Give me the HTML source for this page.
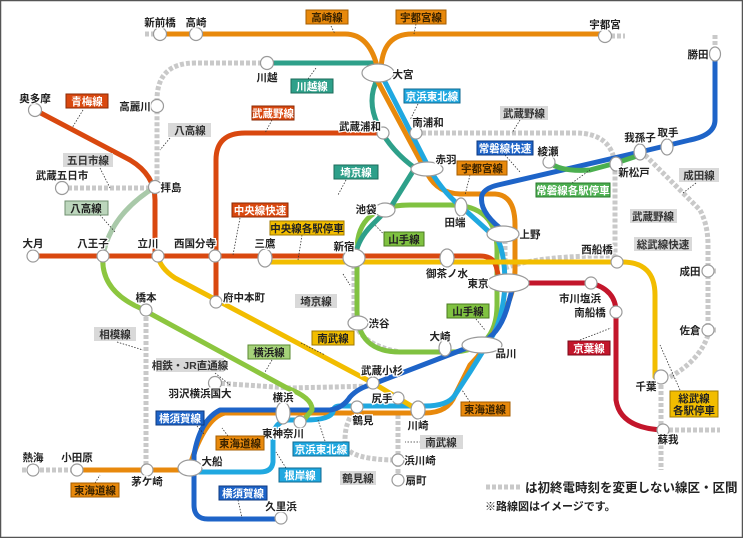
<!DOCTYPE html>
<html><head><meta charset="utf-8"><style>
html,body{margin:0;padding:0;background:#fff}
svg{display:block}
text{font-family:"Liberation Sans","Noto Sans CJK JP",sans-serif;font-weight:bold}
.s{font-size:10.5px;fill:#222;paint-order:stroke;stroke:#fff;stroke-width:2.5px}
.b{font-size:10.5px}
.st{fill:#fff;stroke:#9a9a9a;stroke-width:1.2}
.ln{fill:none;stroke-width:5;stroke-linecap:round;stroke-linejoin:round}
.dt{fill:none;stroke:#c9c9c9;stroke-width:5;stroke-dasharray:4 2}
.ld{stroke:#333;stroke-width:.8;stroke-dasharray:1.5 1.5;fill:none}
</style></head><body>
<svg width="743" height="538" viewBox="0 0 743 538" xmlns="http://www.w3.org/2000/svg">
<rect x="0.5" y="0.5" width="742" height="537" fill="#fff" stroke="#555" stroke-width="1.5"/>
<path class="dt" d="M262,63 H195 Q157,63 157,100 V187"/>
<path class="dt" d="M62,188 H155"/>
<path class="dt" d="M146,311 V470"/>
<path class="dt" d="M22,470 H77"/>
<path class="dt" d="M145,34 H160"/>
<path class="dt" d="M605,36 H625"/>
<path class="dt" d="M715,35 V54"/>
<path class="dt" d="M416,133 H575 Q612,133 615,165 V262"/>
<path class="dt" d="M645,155 L700,210 Q708,225 708,245 V335 Q700,360 670,377"/>
<path class="dt" d="M708,271 H716 M708,330 H716"/>
<path class="dt" d="M505,268 Q540,255 617,256"/>
<path class="dt" d="M661,385 V470 M663,430 H720"/>
<path class="dt" d="M354,265 V320 Q360,345 400,352 H440"/>
<path class="dt" d="M215,383 L290,388 L375,386"/>
<path class="dt" d="M357,408 Q345,420 345,440 V445 Q350,460 398,460"/>
<path class="dt" d="M398,415 V480"/>
<path class="dt" d="M505,240 V262"/>
<path class="ln" stroke="#80c241" d="M357,250 Q357,205 410,205 H450 Q497,205 497,250 V305 Q497,352 450,352 H400 Q357,352 357,310 Z"/>
<path class="ln" stroke="#2ea08a" d="M267,63 H372"/>
<path class="ln" stroke="#2ea08a" d="M378,78 Q366,100 378,125 Q390,150 415,168 L392,205 L372,225 Q357,240 355,258"/>
<path class="ln" stroke="#e8890c" d="M160,34 H345 Q370,34 378,70"/>
<path class="ln" stroke="#e8890c" d="M381,70 Q382,34 412,34 H604"/>
<path class="ln" stroke="#e8890c" d="M377,80 L428,175 Q438,193 460,194 H495 Q515,195 515,225 V270 Q515,290 505,310 L495,330 Q485,350 470,365 L455,395 Q448,413 425,413 H225 Q205,418 190,465"/>
<path class="ln" stroke="#e8890c" d="M77,470 H187"/>
<path class="ln" stroke="#20a8e0" d="M384,80 L430,170 Q445,195 465,210 L498,240 Q505,255 505,285 Q503,320 490,340 L470,372 L455,395 Q448,406 425,406 H340 Q333,406 333,412 Q330,420 305,420 H288 Q275,422 273,435 V462 Q272,472 260,472 H195"/>
<path class="ln" stroke="#1e64c8" d="M281,519 H208 Q194,519 194,505 V455 Q200,420 220,410 H330 Q343,408 350,397 Q358,388 373,384 L480,343 Q500,335 508,305 L512,290"/>
<path class="ln" stroke="#1e64c8" d="M505,232 Q478,212 482,195 Q485,188 498,185 L640,152 L690,140 Q715,135 715,120 V55"/>
<path class="ln" stroke="#4caf50" d="M549,162 Q560,172 590,170 L616,163 L640,155"/>
<path class="ln" stroke="#d9480f" d="M33,256 H480 Q495,256 497,270 L500,283"/>
<path class="ln" stroke="#d9480f" d="M35,110 L130,160 Q155,175 155,200 V256"/>
<path class="ln" stroke="#d9480f" d="M216,302 V160 Q216,133 245,133 H383"/>
<path class="ln" stroke="#f2bd00" d="M265,262 H622 Q655,262 655,295 V377"/>
<path class="ln" stroke="#f2bd00" d="M158,256 Q160,268 175,278 L373,383 L418,410"/>
<path class="ln" stroke="#a9c9a9" d="M155,187 Q110,215 103,256"/>
<path class="ln" stroke="#8cc63f" d="M103,256 Q100,290 140,308 L287,388 Q313,398 312,410 L302,422"/>
<path class="ln" stroke="#c3162b" d="M505,283 H591 Q616,290 616,312 V400 Q620,428 663,430"/>
<path class="ld" d="M331,26 L335,34 M416,24 L414,34 M308,79 L316,68 M83,110 L72,128 M272,120 L265,133 M418,104 L410,120 M520,120 L512,133 M505,155 L520,172 M346,180 L338,195 M470,175 L465,195 M572,183 L590,170 M696,183 L683,193 M170,138 L160,150 M100,168 L110,188 M100,215 L115,232 M240,218 L233,255 M302,235 L298,260 M395,246 L375,225 M476,319 L485,330 M117,342 L143,350 M301,343 L325,355 M272,360 L265,372 M580,340 L611,328 M215,373 L230,385 M470,402 L462,390 M680,390 L660,345 M197,426 L204,434 M228,436 L222,428 M325,441 L318,420 M286,468 L276,452 M95,483 L100,475 M238,500 L242,518 M427,442 L405,442 M343,274 L350,285"/>
<g class="st">
<circle cx="160" cy="34" r="6.5"/><circle cx="196" cy="34" r="6.5"/><circle cx="605" cy="36" r="6.5"/>
<ellipse cx="715" cy="54" rx="5.5" ry="7"/>
<ellipse cx="378" cy="73" rx="16" ry="9"/>
<circle cx="267" cy="63" r="6.5"/><circle cx="157" cy="106" r="6.5"/><circle cx="35" cy="110" r="6.5"/>
<circle cx="383" cy="133" r="6"/><circle cx="416" cy="133" r="6"/>
<ellipse cx="427" cy="169" rx="16" ry="7"/>
<circle cx="549" cy="162" r="6"/><ellipse cx="640" cy="152" rx="6" ry="8"/><ellipse cx="667" cy="147" rx="6" ry="8"/>
<ellipse cx="616" cy="164" rx="6" ry="7"/>
<circle cx="62" cy="188" r="6.5"/><circle cx="155" cy="187" r="6.5"/>
<ellipse cx="385" cy="210" rx="10" ry="7"/><ellipse cx="461" cy="207" rx="6" ry="9"/>
<ellipse cx="503" cy="234" rx="16" ry="8"/>
<circle cx="33" cy="256" r="6"/><circle cx="103" cy="256" r="6"/><circle cx="158" cy="256" r="6"/><circle cx="215" cy="256" r="6"/>
<ellipse cx="265" cy="258" rx="7" ry="9"/><ellipse cx="354" cy="258" rx="11" ry="9"/>
<ellipse cx="447" cy="258" rx="7" ry="9"/><ellipse cx="508" cy="283" rx="21" ry="9"/>
<circle cx="617" cy="262" r="6"/><circle cx="708" cy="271" r="6"/><circle cx="591" cy="283" r="6"/><circle cx="616" cy="312" r="6"/>
<circle cx="216" cy="302" r="6"/><circle cx="146" cy="310" r="6"/>
<ellipse cx="358" cy="323" rx="10" ry="7"/><circle cx="708" cy="330" r="6"/>
<ellipse cx="445" cy="348" rx="6" ry="8"/><ellipse cx="482" cy="345" rx="20" ry="8"/>
<circle cx="661" cy="377" r="7"/><circle cx="373" cy="383" r="6"/><circle cx="215" cy="383" r="6.5"/>
<circle cx="398" cy="398" r="6"/><ellipse cx="283" cy="413" rx="7" ry="11"/><ellipse cx="418" cy="410" rx="7" ry="9"/>
<circle cx="357" cy="407" r="6"/><circle cx="300" cy="422" r="6"/><circle cx="663" cy="430" r="6"/>
<ellipse cx="190" cy="468" rx="12" ry="8"/><circle cx="33" cy="470" r="6"/><circle cx="77" cy="470" r="6"/><circle cx="147" cy="470" r="6"/>
<circle cx="398" cy="460" r="6"/><circle cx="398" cy="480" r="6"/><circle cx="281" cy="518" r="6"/>
</g>
<g class="s" text-anchor="middle">
<text x="160" y="26">新前橋</text><text x="196" y="26">高崎</text><text x="605" y="28">宇都宮</text>
<text x="698" y="58">勝田</text><text x="403" y="78">大宮</text><text x="267" y="81">川越</text>
<text x="135" y="110">高麗川</text><text x="35" y="102">奥多摩</text><text x="360" y="130">武蔵浦和</text>
<text x="428" y="126">南浦和</text><text x="446" y="163">赤羽</text><text x="548" y="155">綾瀬</text>
<text x="640" y="141">我孫子</text><text x="668" y="136">取手</text><text x="634" y="176">新松戸</text>
<text x="62" y="179">武蔵五日市</text><text x="171" y="191">拝島</text><text x="366" y="213">池袋</text>
<text x="455" y="226">田端</text><text x="530" y="238">上野</text><text x="33" y="247">大月</text>
<text x="93" y="247">八王子</text><text x="148" y="247">立川</text><text x="195" y="247">西国分寺</text>
<text x="265" y="247">三鷹</text><text x="344" y="250">新宿</text><text x="447" y="277">御茶ノ水</text>
<text x="478" y="287">東京</text><text x="597" y="253">西船橋</text><text x="690" y="275">成田</text>
<text x="580" y="302">市川塩浜</text><text x="590" y="316">南船橋</text><text x="244" y="301">府中本町</text>
<text x="146" y="301">橋本</text><text x="379" y="327">渋谷</text><text x="690" y="334">佐倉</text>
<text x="440" y="340">大崎</text><text x="506" y="357">品川</text><text x="646" y="390">千葉</text>
<text x="382" y="374">武蔵小杉</text><text x="200" y="397">羽沢横浜国大</text><text x="382" y="402">尻手</text>
<text x="283" y="401">横浜</text><text x="418" y="429">川崎</text><text x="363" y="424">鶴見</text>
<text x="283" y="437">東神奈川</text><text x="668" y="443">蘇我</text><text x="212" y="465">大船</text>
<text x="33" y="461">熱海</text><text x="77" y="461">小田原</text><text x="147" y="485">茅ケ崎</text>
<text x="420" y="464">浜川崎</text><text x="416" y="484">扇町</text><text x="281" y="510">久里浜</text>
</g>
<g class="b" text-anchor="middle">
<g><rect x="306" y="10" width="42" height="14" fill="#e8890c" stroke="#a55d00"/><text x="327" y="21" fill="#3a2300">高崎線</text></g>
<g><rect x="396" y="10" width="50" height="14" fill="#e8890c" stroke="#a55d00"/><text x="421" y="21" fill="#3a2300">宇都宮線</text></g>
<g><rect x="291" y="79" width="42" height="14" fill="#2ea08a" stroke="#1c6b5a"/><text x="312" y="90" fill="#fff">川越線</text></g>
<g><rect x="66" y="94" width="42" height="14" fill="#d9480f" stroke="#8a2a05"/><text x="87" y="105" fill="#fff">青梅線</text></g>
<g><rect x="252" y="106" width="42" height="14" fill="#d9480f" stroke="#8a2a05"/><text x="273" y="117" fill="#fff">武蔵野線</text></g>
<g><rect x="404" y="89" width="56" height="14" fill="#20a8e0" stroke="#106a90"/><text x="432" y="100" fill="#fff">京浜東北線</text></g>
<g><rect x="500" y="106" width="48" height="14" fill="#d9d9d9"/><text x="524" y="117" fill="#333">武蔵野線</text></g>
<g><rect x="168" y="123" width="43" height="14" fill="#d9d9d9"/><text x="190" y="134" fill="#333">八高線</text></g>
<g><rect x="63" y="153" width="50" height="14" fill="#d9d9d9"/><text x="88" y="164" fill="#333">五日市線</text></g>
<g><rect x="477" y="141" width="56" height="14" fill="#1e64c8" stroke="#0e3a80"/><text x="505" y="152" fill="#fff">常磐線快速</text></g>
<g><rect x="334" y="165" width="44" height="14" fill="#2ea08a" stroke="#1c6b5a"/><text x="356" y="176" fill="#fff">埼京線</text></g>
<g><rect x="457" y="161" width="50" height="14" fill="#e8890c" stroke="#a55d00"/><text x="482" y="172" fill="#3a2300">宇都宮線</text></g>
<g><rect x="536" y="183" width="74" height="14" fill="#4caf50" stroke="#2a7a2e"/><text x="573" y="194" fill="#fff">常磐線各駅停車</text></g>
<g><rect x="679" y="168" width="40" height="14" fill="#d9d9d9"/><text x="699" y="179" fill="#333">成田線</text></g>
<g><rect x="65" y="201" width="43" height="14" fill="#bcd6bc" stroke="#6f8f6f"/><text x="86" y="212" fill="#222">八高線</text></g>
<g><rect x="232" y="203" width="56" height="14" fill="#d9480f" stroke="#8a2a05"/><text x="260" y="214" fill="#fff">中央線快速</text></g>
<g><rect x="270" y="221" width="74" height="14" fill="#f2bd00" stroke="#a07a00"/><text x="307" y="232" fill="#222">中央線各駅停車</text></g>
<g><rect x="384" y="232" width="40" height="14" fill="#80c241" stroke="#4a7a20"/><text x="404" y="243" fill="#222">山手線</text></g>
<g><rect x="630" y="209" width="47" height="14" fill="#d9d9d9"/><text x="653" y="220" fill="#333">武蔵野線</text></g>
<g><rect x="634" y="237" width="58" height="14" fill="#d9d9d9"/><text x="663" y="248" fill="#333">総武線快速</text></g>
<g><rect x="295" y="294" width="42" height="14" fill="#d9d9d9"/><text x="316" y="305" fill="#333">埼京線</text></g>
<g><rect x="447" y="304" width="42" height="14" fill="#80c241" stroke="#4a7a20"/><text x="468" y="315" fill="#222">山手線</text></g>
<g><rect x="94" y="327" width="42" height="14" fill="#d9d9d9"/><text x="115" y="338" fill="#333">相模線</text></g>
<g><rect x="312" y="331" width="42" height="14" fill="#f2bd00" stroke="#a07a00"/><text x="333" y="342" fill="#222">南武線</text></g>
<g><rect x="248" y="345" width="42" height="14" fill="#a6d27a" stroke="#5a8a30"/><text x="269" y="356" fill="#222">横浜線</text></g>
<g><rect x="568" y="341" width="42" height="14" fill="#c3162b" stroke="#7a0a18"/><text x="589" y="352" fill="#fff">京葉線</text></g>
<g><rect x="156" y="358" width="68" height="14" fill="#d9d9d9"/><text x="190" y="369" fill="#333">相鉄・JR直通線</text></g>
<g><rect x="461" y="402" width="49" height="14" fill="#e8890c" stroke="#a55d00"/><text x="485" y="413" fill="#3a2300">東海道線</text></g>
<g><rect x="670" y="391" width="48" height="26" fill="#f2bd00" stroke="#a07a00"/><text x="694" y="402" fill="#222">総武線</text><text x="694" y="414" fill="#222">各駅停車</text></g>
<g><rect x="156" y="411" width="48" height="14" fill="#1e64c8" stroke="#0e3a80"/><text x="180" y="422" fill="#fff">横須賀線</text></g>
<g><rect x="216" y="436" width="48" height="14" fill="#e8890c" stroke="#a55d00"/><text x="240" y="447" fill="#3a2300">東海道線</text></g>
<g><rect x="293" y="442" width="56" height="14" fill="#20a8e0" stroke="#106a90"/><text x="321" y="453" fill="#fff">京浜東北線</text></g>
<g><rect x="420" y="435" width="43" height="14" fill="#d9d9d9"/><text x="441" y="446" fill="#333">南武線</text></g>
<g><rect x="279" y="468" width="42" height="14" fill="#20a8e0" stroke="#106a90"/><text x="300" y="479" fill="#fff">根岸線</text></g>
<g><rect x="71" y="483" width="48" height="14" fill="#e8890c" stroke="#a55d00"/><text x="95" y="494" fill="#3a2300">東海道線</text></g>
<g><rect x="219" y="486" width="48" height="14" fill="#1e64c8" stroke="#0e3a80"/><text x="243" y="497" fill="#fff">横須賀線</text></g>
<g><rect x="340" y="471" width="36" height="14" fill="#d9d9d9"/><text x="358" y="482" fill="#333">鶴見線</text></g>
</g>
<path class="dt" d="M486,487 H520"/>
<text x="525" y="492" style="font-size:12.5px" fill="#222">は初終電時刻を変更しない線区・区間</text>
<text x="485" y="510" style="font-size:11px" fill="#222">※路線図はイメージです。</text>
</svg>
</body></html>
